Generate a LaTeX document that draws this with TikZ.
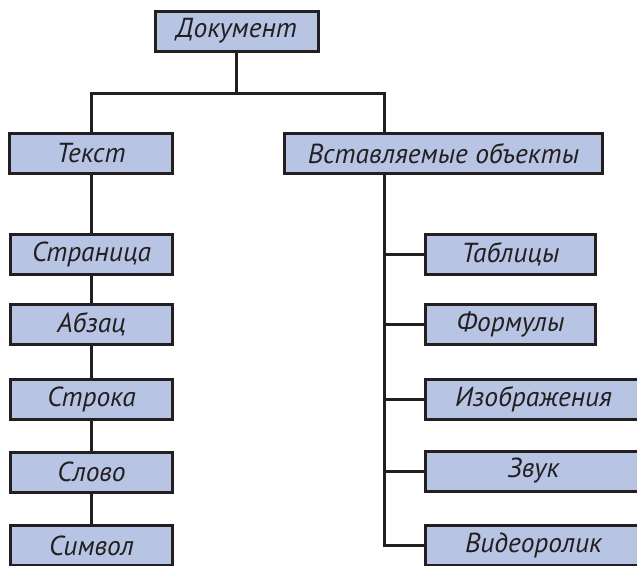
\documentclass[tikz,border=0pt]{standalone}
\usepackage{fontspec}
\setmainfont{PT Sans}
\definecolor{boxfill}{HTML}{B7C4E3}
\definecolor{ink}{HTML}{231F20}
\tikzset{
  box/.style={draw=ink, fill=boxfill, line width=3pt, inner sep=0pt,
    minimum height=40pt, font=\fontsize{27.5}{30}\selectfont\itshape, text=ink},
  conn/.style={draw=ink, line width=3pt}
}
\begin{document}
\begin{tikzpicture}[x=1pt,y=-1pt]
\useasboundingbox (0,0) rectangle (637,565);
\node[box, minimum width=163pt] (doc) at (236.5,31) {Документ};
\node[box, minimum width=163pt] (txt) at (91,153.5) {Текст};
\node[box, minimum width=318pt] (ins) at (443.5,153.5) {Вставляемые объекты};
\node[box, minimum width=162pt] (pag) at (91.5,254.5) {Страница};
\node[box, minimum width=162pt] (abz) at (91.5,324) {Абзац};
\node[box, minimum width=162pt] (str) at (91.5,399.5) {Строка};
\node[box, minimum width=162pt] (slo) at (91.5,472) {Слово};
\node[box, minimum width=162pt] (sym) at (91.5,545.5) {Символ};
\node[box, minimum width=170.5pt] (tab) at (510.5,254.5) {Таблицы};
\node[box, minimum width=170.5pt] (frm) at (510.5,324) {Формулы};
\node[box, minimum width=217pt] (img) at (533.5,399.5) {Изображения};
\node[box, minimum width=217pt] (snd) at (533.5,471) {Звук};
\node[box, minimum width=217pt] (vid) at (533.5,545.5) {Видеоролик};
\coordinate (bus) at (0,93);
\coordinate (spine) at (384,0);
\draw[conn] (doc.south) -- (doc.south |- bus);
\draw[conn] (txt.north) -- (txt.north |- bus) -- (spine |- bus) -- (spine |- ins.north);
\draw[conn] (txt.south) -- (txt.south |- pag.north);
\draw[conn] (pag.south) -- (abz.north);
\draw[conn] (abz.south) -- (str.north);
\draw[conn] (str.south) -- (slo.north);
\draw[conn] (slo.south) -- (sym.north);
\draw[conn] (spine |- ins.south) -- (spine |- vid.west) -- (vid.west);
\draw[conn] (spine |- tab.west) -- (tab.west);
\draw[conn] (spine |- frm.west) -- (frm.west);
\draw[conn] (spine |- img.west) -- (img.west);
\draw[conn] (spine |- snd.west) -- (snd.west);
\end{tikzpicture}
\end{document}
